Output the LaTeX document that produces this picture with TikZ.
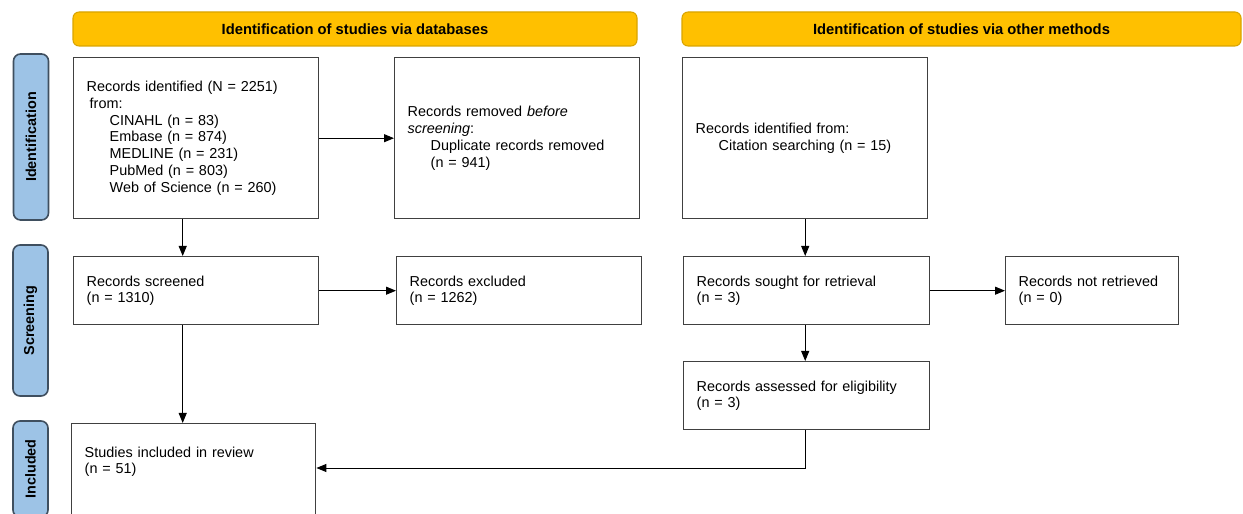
\documentclass[tikz,border=0pt]{standalone}
\usepackage{fontspec}
\setmainfont{Liberation Sans}
\usetikzlibrary{shapes,arrows.meta,positioning,calc}

\definecolor{headgold}{HTML}{FFC000}
\definecolor{headedge}{HTML}{D9A400}
\definecolor{phaseblue}{HTML}{9DC3E6}
\definecolor{phaseedge}{HTML}{3F4F5F}
\definecolor{boxedge}{HTML}{404040}

\tikzset{
  header/.style={rectangle,rounded corners=0.12cm,fill=headgold,draw=headedge,line width=0.6pt,minimum height=0.68cm,font=\bfseries\fontsize{8.4}{10}\selectfont},
  phase/.style={rectangle,rounded corners=0.14cm,fill=phaseblue,draw=phaseedge,line width=0.9pt,rotate=90,minimum height=0.7cm,font=\bfseries\fontsize{8.2}{10}\selectfont},
  record/.style={rectangle,draw=boxedge,line width=0.8pt,fill=white,anchor=north west,align=left,inner xsep=0.26cm,inner ysep=0.1cm,font=\fontsize{8.2}{9.55}\selectfont},
  flow/.style={-{Triangle[length=0.2cm,width=0.16cm]},line width=0.55pt}
}

\begin{document}
\begin{tikzpicture}
    \useasboundingbox (0,0) rectangle (24.86,10.28);

    % Headers
    \node[header,minimum width=11.28cm] (dbhead) at (7.10,9.70) {Identification of studies via databases};
    \node[header,minimum width=11.18cm] (otherhead) at (19.23,9.70) {Identification of studies via other methods};

    % Phase labels
    \node[phase,minimum width=3.32cm] (identphase) at (0.62,7.54) {Identification};
    \node[phase,minimum width=3.02cm] (screenphase) at (0.61,3.87) {Screening};
    \node[phase,minimum width=1.92cm] (inclphase) at (0.61,0.90) {Included};

    % Identification
    \node[record,text width=4.38cm,minimum height=3.22cm] (ident) at (1.46,9.14)
        {Records identified (N = 2251)\\
         \hspace*{0.06cm}from:\\
         \hspace*{0.46cm}CINAHL (n = 83)\\
         \hspace*{0.46cm}Embase (n = 874)\\
         \hspace*{0.46cm}MEDLINE (n = 231)\\
         \hspace*{0.46cm}PubMed (n = 803)\\
         \hspace*{0.46cm}Web of Science (n = 260)};
    \node[record,text width=4.38cm,minimum height=3.22cm] (removed) at (7.88,9.14)
        {Records removed \textit{before}\\
         \textit{screening}:\\
         \hspace*{0.46cm}Duplicate records removed\\
         \hspace*{0.46cm}(n = 941)};
    \node[record,text width=4.38cm,minimum height=3.22cm] (other) at (13.64,9.14)
        {Records identified from:\\
         \hspace*{0.46cm}Citation searching (n = 15)};

    % Screening
    \node[record,text width=4.38cm,minimum height=1.36cm] (screened) at (1.46,5.16)
        {Records screened\\(n = 1310)};
    \node[record,text width=4.38cm,minimum height=1.36cm] (excluded) at (7.92,5.16)
        {Records excluded\\(n = 1262)};
    \node[record,text width=4.40cm,minimum height=1.36cm] (sought) at (13.66,5.16)
        {Records sought for retrieval\\(n = 3)};
    \node[record,text width=2.94cm,minimum height=1.36cm] (notret) at (20.10,5.16)
        {Records not retrieved\\(n = 0)};
    \node[record,text width=4.40cm,minimum height=1.36cm] (assessed) at (13.66,3.06)
        {Records assessed for eligibility\\(n = 3)};

    % Included
    \node[record,text width=4.36cm,inner ysep=0.46cm] (incl) at (1.42,1.82)
        {Studies included in review\\(n = 51)\rule[-1.2cm]{0pt}{1.2cm}};

    % Flows
    \draw[flow] (ident.east) -- (removed.west);
    \draw[flow] ([xshift=-0.27cm]ident.south) -- ([xshift=-0.27cm]ident.south |- screened.north);
    \draw[flow] (screened.east) -- (excluded.west);
    \draw[flow] ([xshift=-0.27cm]screened.south) -- ([xshift=-0.27cm]screened.south |- incl.north);
    \draw[flow] (other.south) -- (other.south |- sought.north);
    \draw[flow] (sought.east) -- (notret.west);
    \draw[flow] (other.south |- sought.south) -- (other.south |- assessed.north);
    \draw[flow] (other.south |- assessed.south) |- ([yshift=-0.9cm]incl.north east);
\end{tikzpicture}
\end{document}
